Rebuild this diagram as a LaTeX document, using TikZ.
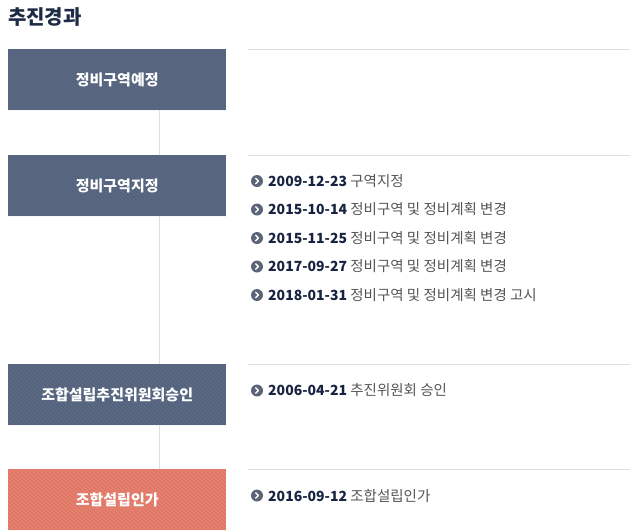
\documentclass[tikz,border=0pt]{standalone}
\usepackage{fontspec}
\newfontfamily\kr{Noto Sans CJK KR}
\definecolor{slate}{HTML}{5A6984}
\definecolor{salmon}{HTML}{E9806E}
\definecolor{titlec}{HTML}{1E2B45}
\definecolor{datec}{HTML}{172340}
\definecolor{descc}{HTML}{555555}
\definecolor{rulec}{HTML}{DEDEDE}
\definecolor{bulc}{HTML}{5C6577}
\tikzset{
  stage/.style={minimum width=218pt, minimum height=61pt, inner sep=0pt, anchor=north west,
    fill=#1, text=white, font=\kr\bfseries\fontsize{15}{17}\selectfont,
    path picture={\foreach \k in {0,4,...,300}
      \draw[black, opacity=0.08, line width=1pt] ([xshift=\k pt-80pt]path picture bounding box.north west) -- ++(70,70);}},
  rule/.style={draw=rulec, line width=1pt},
  vline/.style={draw=rulec, line width=1pt},
  entry/.style={anchor=west, inner sep=0pt, font=\kr\fontsize{14.5}{16}\selectfont, text=descc},
  bul/.style={circle, fill=bulc, minimum size=12pt, inner sep=0pt,
    path picture={\draw[white, line width=1.4pt, line cap=round, line join=round]
      ([xshift=-1.3pt,yshift=2.6pt]path picture bounding box.center) -- ++(2.6,2.6) -- ++(-2.6,2.6);}},
}
\newcommand{\dt}[1]{{\bfseries\color{datec}\fontsize{14}{16}\selectfont#1}}
\begin{document}
\begin{tikzpicture}[x=1pt,y=-1pt]
\useasboundingbox (0,0) rectangle (630,531);
\node[anchor=west, inner sep=0pt, font=\kr\bfseries\fontsize{20}{22}\selectfont, text=titlec] (title) at (8,17) {추진경과};

\node[stage=slate] (b1) at (8,49) {정비구역예정};
\node[stage=slate] (b2) at (8,155) {정비구역지정};
\node[stage=slate] (b3) at (8,364) {조합설립추진위원회승인};
\node[stage=salmon] (b4) at (8,469) {조합설립인가};

\coordinate (vx) at (159,0);
\draw[vline] (b1.south -| vx) -- (b2.north -| vx);
\draw[vline] (b2.south -| vx) -- (b3.north -| vx);
\draw[vline] (b3.south -| vx) -- (b4.north -| vx);

\coordinate (r1a) at (248,49); \coordinate (r1b) at (630,49);
\coordinate (r2a) at (248,155); \coordinate (r2b) at (630,155);
\coordinate (r3a) at (248,364); \coordinate (r3b) at (630,364);
\coordinate (r4a) at (248,469); \coordinate (r4b) at (630,469);
\draw[rule] (r1a) -- (r1b);
\draw[rule] (r2a) -- (r2b);
\draw[rule] (r3a) -- (r3b);
\draw[rule] (r4a) -- (r4b);

\node[bul] (i1) at (257,181) {};
\node[entry] (e1) at (268,181) {\dt{2009-12-23} 구역지정};
\node[bul] (i2) at (257,209.5) {};
\node[entry] (e2) at (268,209.5) {\dt{2015-10-14} 정비구역 및 정비계획 변경};
\node[bul] (i3) at (257,238) {};
\node[entry] (e3) at (268,238) {\dt{2015-11-25} 정비구역 및 정비계획 변경};
\node[bul] (i4) at (257,266.5) {};
\node[entry] (e4) at (268,266.5) {\dt{2017-09-27} 정비구역 및 정비계획 변경};
\node[bul] (i5) at (257,295) {};
\node[entry] (e5) at (268,295) {\dt{2018-01-31} 정비구역 및 정비계획 변경 고시};
\node[bul] (i6) at (257,390.5) {};
\node[entry] (e6) at (268,390.5) {\dt{2006-04-21} 추진위원회 승인};
\node[bul] (i7) at (257,495.5) {};
\node[entry] (e7) at (268,495.5) {\dt{2016-09-12} 조합설립인가};
\end{tikzpicture}
\end{document}
